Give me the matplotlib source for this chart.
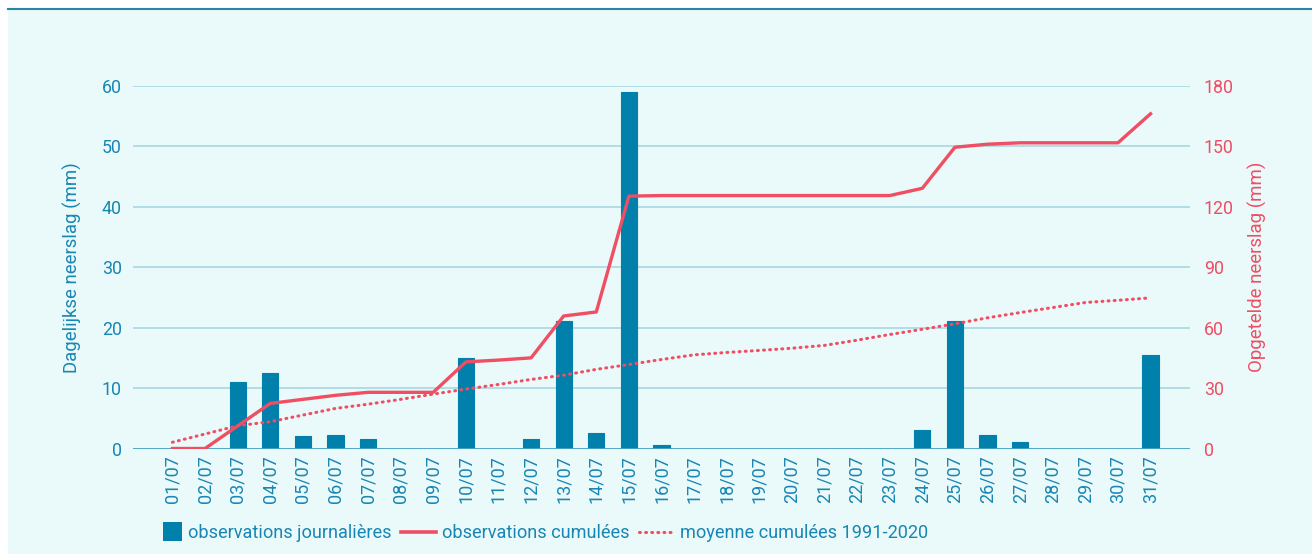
import matplotlib
matplotlib.use("Agg")
import matplotlib.pyplot as plt
from matplotlib.patches import Rectangle
from matplotlib.lines import Line2D
from matplotlib.legend_handler import HandlerPatch
import numpy as np

plt.rcParams['font.family'] = ['Roboto', 'DejaVu Sans']

days = ["01/07", "02/07", "03/07", "04/07", "05/07", "06/07", "07/07", "08/07",
        "09/07", "10/07", "11/07", "12/07", "13/07", "14/07", "15/07", "16/07",
        "17/07", "18/07", "19/07", "20/07", "21/07", "22/07", "23/07", "24/07",
        "25/07", "26/07", "27/07", "28/07", "29/07", "30/07", "31/07"]
daily = [0, 0, 11.0, 12.5, 2.1, 2.2, 1.6, 0, 0, 15.0, 0, 1.6, 21.1, 2.6, 59.0, 0.6,
         0, 0, 0, 0, 0, 0, 0, 3.1, 21.1, 2.2, 1.1, 0, 0, 0, 15.5]
cumul = [0, 0, 11.2, 22.4, 24.4, 26.4, 27.9, 27.9, 27.9, 43.0, 43.9, 45.0, 65.8, 67.8,
         125.3, 125.6, 125.6, 125.6, 125.6, 125.6, 125.6, 125.6, 125.6, 129.2, 149.6,
         151.1, 151.8, 151.8, 151.8, 151.8, 166.2]
normal = [3.1, 7.2, 11.3, 13.3, 16.6, 19.9, 22.0, 24.4, 27.0, 29.5, 31.8, 34.3, 36.4,
          39.3, 41.7, 44.2, 46.5, 47.7, 48.7, 49.8, 51.2, 53.8, 56.6, 59.2, 61.9, 64.9,
          67.5, 70.0, 72.5, 73.6, 74.8]

BAR = "#0080AB"
BLUE_TXT = "#1886B4"
RED = "#EF4E63"
BG = "#EAF9F9"
GRID = "#ADDAE6"

W, H = 1312, 554
fig = plt.figure(figsize=(W / 100, H / 100), dpi=100)
fig.patch.set_facecolor("white")
fig.patches.append(Rectangle((8 / W, 0), 1 - 8 / W, 1 - 10 / H, transform=fig.transFigure,
                             facecolor=BG, edgecolor="none", zorder=-10))
fig.lines.append(Line2D([8 / W, 1], [1 - 9 / H, 1 - 9 / H], transform=fig.transFigure,
                        color="#2A86A8", linewidth=1.5, zorder=-9))

left, right = 133 / W, 1190 / W
bottom = (H - 448.5) / H
top = (H - 86) / H
ax = fig.add_axes([left, bottom, right - left, top - bottom])
ax.set_facecolor("none")
ax2 = ax.twinx()
ax2.set_facecolor("none")

x = np.arange(len(days))
ax.bar(x, daily, width=0.5, color=BAR, edgecolor=BAR, linewidth=0.8, zorder=3)
ax.set_ylim(0, 60)
ax.set_yticks([0, 10, 20, 30, 40, 50, 60])
ax.set_xlim(-1.21, 31.21)
ax.set_xticks(x)
ax.set_xticklabels(days, rotation=90, color=BLUE_TXT, fontsize=13)
ax.tick_params(axis="x", length=0, pad=5)
ax.tick_params(axis="y", length=0, pad=8, labelcolor=BLUE_TXT, labelsize=12.8)
ax.grid(axis="y", color=GRID, linewidth=1.3, zorder=0)
ax.set_axisbelow(True)
for s in ax.spines.values():
    s.set_visible(False)
ax.axhline(0, color="#4BA3C3", linewidth=2, zorder=4)
ax.set_ylabel("Dagelijkse neerslag (mm)", color=BLUE_TXT, fontsize=13.4, labelpad=14)

ax2.plot(x, cumul, color=RED, linewidth=2.4, zorder=5)
ax2.plot(x, normal, color=RED, linewidth=2.2, linestyle=(0, (0.3, 1.7)),
         dash_capstyle="round", zorder=5)
ax2.set_ylim(0, 180)
ax2.set_yticks([0, 30, 60, 90, 120, 150, 180])
ax2.tick_params(axis="y", length=0, pad=10, labelcolor=RED, labelsize=12.8)
for s in ax2.spines.values():
    s.set_visible(False)
ax2.set_ylabel("Opgetelde neerslag (mm)", color=RED, fontsize=13.4, labelpad=10)


class SquareHandler(HandlerPatch):
    def create_artists(self, legend, orig_handle, xdescent, ydescent, width, height,
                       fontsize, trans):
        side = height * 1.45
        p = Rectangle((width - side - xdescent, -ydescent + (height - side) / 2), side, side,
                      facecolor=BAR, edgecolor="none", transform=trans)
        return [p]


handles = [
    Rectangle((0, 0), 1, 1, facecolor=BAR, edgecolor="none"),
    Line2D([], [], color=RED, linewidth=2.6),
    Line2D([], [], color=RED, linewidth=2.2, linestyle=(0, (0.3, 1.7)), dash_capstyle="round"),
]
labels = ["observations journalières", "observations cumulées", "moyenne cumulées 1991-2020"]
leg = fig.legend(handles, labels, loc="center left", bbox_to_anchor=(147 / W, 1 - 533 / H),
                 ncol=3, frameon=False, fontsize=13.1, handlelength=1.92,
                 handletextpad=0.35, columnspacing=0.5, borderpad=0, borderaxespad=0,
                 handler_map={Rectangle: SquareHandler()})
for t in leg.get_texts():
    t.set_color(BLUE_TXT)

fig.savefig("out.png", dpi=100, facecolor=fig.get_facecolor())
